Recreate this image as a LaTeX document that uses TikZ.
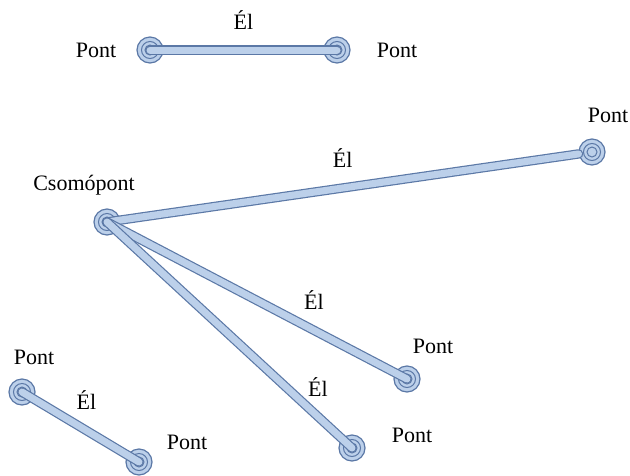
\documentclass[tikz,border=0pt]{standalone}
\usepackage{fontspec}
\setmainfont{Liberation Serif}
\usepackage{tikz}
\usetikzlibrary{arrows.meta,positioning}

\definecolor{pontline}{HTML}{5B78A6}
\definecolor{pontfill}{HTML}{BCD0EA}

\tikzset{
  pont/.style={circle,draw=pontline,fill=pontfill,line width=1.2pt,
    minimum size=26pt,inner sep=0pt,
    path picture={
      \draw[pontline,line width=1pt] (path picture bounding box.center) circle (8.5pt);
      \draw[pontline,line width=1pt,fill=pontfill] (path picture bounding box.center) circle (5pt);
    }},
  el/.style={draw=pontline,line width=1.2pt,double=pontfill,double distance=7pt,line cap=round},
  lbl/.style={font=\fontsize{22}{25}\selectfont,inner sep=0pt},
}

\begin{document}
\begin{tikzpicture}[x=1pt,y=-1pt]
\useasboundingbox[fill=white] (0,0) rectangle (630,475);

% points
\node[pont,label={[lbl,label distance=20pt]left:Pont}] (a1) at (150,50) {};
\node[pont,label={[lbl,label distance=26pt]right:Pont}] (a2) at (337,50) {};
\node[pont,label={[lbl,xshift=-23pt,label distance=13pt]above:Csomópont}] (cs) at (107,222) {};
\node[pont,label={[lbl,xshift=16pt,label distance=15pt]above:Pont}] (p1) at (592,152) {};
\node[pont,label={[lbl,xshift=26pt,label distance=11pt]above:Pont}] (p2) at (407,379) {};
\node[pont,label={[lbl,xshift=60pt,yshift=13pt]center:Pont}] (p3) at (352,448) {};
\node[pont,label={[lbl,xshift=12pt,label distance=13pt]above:Pont}] (b1) at (22,392) {};
\node[pont,label={[lbl,xshift=48pt,yshift=20pt]center:Pont}] (b2) at (139,462) {};

% edges
\draw[el] (a1.center) -- node[lbl,midway,yshift=30pt] {Él} (a2.center);
\draw[el] (cs.center) -- node[lbl,midway,yshift=30pt] {Él} (p1);
\draw[el] (cs.center) -- node[lbl,pos=0.69,yshift=30pt] {Él} (p2.center);
\draw[el] (cs.center) -- node[lbl,pos=0.73,xshift=32pt] {Él} (p3.center);
\draw[el] (b1.center) -- node[lbl,pos=0.55,yshift=30pt] {Él} (b2.center);
\end{tikzpicture}
\end{document}
